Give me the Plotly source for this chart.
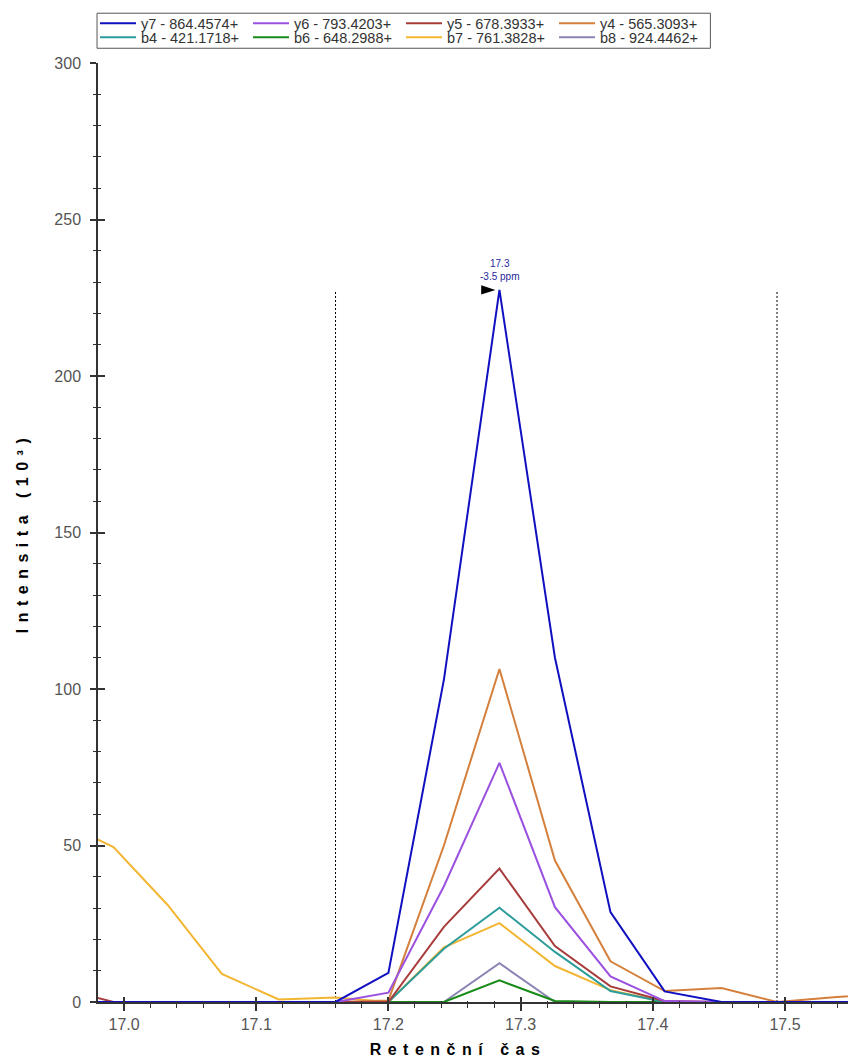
import plotly.graph_objects as go

# ---------------- data ----------------
rt = [16.950, 16.992, 17.033, 17.074, 17.117, 17.160, 17.200, 17.242,
      17.284, 17.326, 17.368, 17.409, 17.452, 17.494, 17.537, 17.579]

y7 = [0, 0, 0, 0, 0, 0, 9.3, 103.0, 227.5, 110.0, 28.7, 3.4, 0, 0, 0, 0]
y6 = [0, 0, 0, 0, 0, 0, 3.0, 37.0, 76.4, 30.3, 8.2, 0.3, 0, 0, 0, 0]
y5 = [4.5, 0, 0, 0, 0, 0, 0, 24.0, 42.6, 17.9, 5.0, 0.3, 0, 0, 0, 0]
y4 = [0, 0, 0, 0, 0, 0, 0.5, 50.0, 106.4, 45.2, 13.0, 3.5, 4.5, 0, 1.5, 2.9]
b4 = [0, 0, 0, 0, 0, 0, 0, 17.0, 30.1, 16.0, 3.5, 0, 0, 0, 0, 0]
b6 = [0, 0, 0, 0, 0, 0, 0, 0, 6.9, 0.3, 0, 0, 0, 0, 0, 0]
b7 = [58.0, 49.5, 31.0, 9.0, 0.8, 1.4, 0, 17.5, 25.2, 11.5, 3.8, 0, 0, 0, 0, 0]
b8 = [0, 0, 0, 0, 0, 0, 0, 0, 12.4, 0, 0, 0, 0, 0, 0, 0]

series_names = ["y7 - 864.4574+", "y6 - 793.4203+", "y5 - 678.3933+", "y4 - 565.3093+",
                "b4 - 421.1718+", "b6 - 648.2988+", "b7 - 761.3828+", "b8 - 924.4462+"]
series_values = [y7, y6, y5, y4, b4, b6, b7, b8]
series_colors = ["#1010c0", "#9b50e0", "#a83c3c", "#d4803c",
                 "#2b9c9a", "#188a18", "#f2b632", "#8c84b4"]
series_legend = ["legend", "legend", "legend", "legend",
                 "legend2", "legend2", "legend2", "legend2"]

boundary_rt = [17.160, 17.494]          # integration boundaries
peak_label = "17.3<br>-3.5 ppm"

x_range = [16.9803, 17.5477]
y_range = [0, 300]
x_title = "Retenční čas"
y_title = "Intensita (10³)"

FONT = "Liberation Sans, Arial, sans-serif"
AXC = "#333333"

fig = go.Figure()

# integration boundary lines (drawn first, under the chromatograms)
peak_height = max(y7)
for t in boundary_rt:
    fig.add_trace(go.Scatter(x=[t, t], y=[0, peak_height], mode="lines",
                             line=dict(color="black", width=1, dash="2px,2px"),
                             showlegend=False, hoverinfo="skip"))

# chromatogram traces: drawn in reverse so y7 ends on top; legends reversed back
for name, vals, col, lg in reversed(list(zip(series_names, series_values,
                                              series_colors, series_legend))):
    fig.add_trace(go.Scatter(x=rt, y=vals, mode="lines", name=name, legend=lg,
                             line=dict(color=col, width=2)))

# apex marker + label
ip = y7.index(peak_height)
fig.add_trace(go.Scatter(x=[rt[ip]], y=[y7[ip]], mode="markers",
                         marker=dict(symbol="arrow", angle=90, size=15, color="black",
                                     standoff=4, line=dict(width=0)),
                         cliponaxis=False, showlegend=False, hoverinfo="skip"))
fig.add_annotation(x=rt[ip], y=y7[ip], text=peak_label, showarrow=False,
                   yanchor="bottom", yshift=6,
                   font=dict(family=FONT, size=10, color="#1f1f99"))

# dummy trace to activate overlay axes (inside halves of the crossing ticks)
fig.add_trace(go.Scatter(x=[None], y=[None], xaxis="x2", yaxis="y2",
                         showlegend=False, hoverinfo="skip"))

tickfont = dict(family=FONT, size=16, color="#555555")
titlefont = dict(family=FONT, size=16, color="black", weight="bold")
legfont = dict(family=FONT, size=14.5, color="#333333")

common_leg = dict(orientation="h", xanchor="left", yanchor="top", x=-0.004,
                  traceorder="reversed", itemwidth=36,
                  entrywidth=102, entrywidthmode="pixels",
                  borderwidth=0, bgcolor="rgba(0,0,0,0)", font=legfont)

fig.update_layout(
    width=848, height=1059,
    margin=dict(l=98, r=0, t=63, b=57),
    paper_bgcolor="white", plot_bgcolor="white",
    showlegend=True,
    legend=dict(common_leg, y=1.0593),
    legend2=dict(common_leg, y=1.0444),
    xaxis=dict(range=x_range, tick0=17.0, dtick=0.1, tickformat=".1f",
               ticks="outside", ticklen=7, tickwidth=1.5, tickcolor=AXC,
               showline=True, linecolor=AXC, linewidth=1.5,
               showgrid=False, zeroline=False, layer="below traces",
               minor=dict(dtick=0.02, ticks="outside", ticklen=4, tickwidth=1,
                          tickcolor=AXC, showgrid=False),
               tickfont=tickfont,
               title=dict(text=x_title, font=titlefont, standoff=12)),
    yaxis=dict(range=y_range, tick0=0, dtick=50,
               ticks="outside", ticklen=6, tickwidth=1.5, tickcolor=AXC,
               showline=True, linecolor=AXC, linewidth=1.5,
               showgrid=False, zeroline=False,
               minor=dict(dtick=10, ticks="outside", ticklen=3, tickwidth=1,
                          tickcolor=AXC, showgrid=False),
               tickfont=tickfont, ticklabelstandoff=6,
               title=dict(text=y_title, font=titlefont, standoff=22)),
    xaxis2=dict(range=x_range, overlaying="x", anchor="y2", side="bottom",
                tick0=17.0, dtick=0.1, ticks="inside", ticklen=5, tickwidth=1.5,
                tickcolor=AXC, showticklabels=False, showline=False,
                showgrid=False, zeroline=False,
                minor=dict(dtick=0.02, ticks="inside", ticklen=1, tickwidth=1,
                           tickcolor=AXC, showgrid=False)),
    yaxis2=dict(range=y_range, overlaying="y", anchor="x2", side="left",
                tick0=0, dtick=50, ticks="inside", ticklen=7, tickwidth=1.5,
                tickcolor=AXC, showticklabels=False, showline=False,
                showgrid=False, zeroline=False,
                minor=dict(dtick=10, ticks="inside", ticklen=3, tickwidth=1,
                           tickcolor=AXC, showgrid=False)),
)

# frame around the two legend rows
fig.add_shape(type="rect", xref="paper", yref="paper",
              x0=-0.0013, x1=0.8165, y0=1.0157, y1=1.0530,
              line=dict(color="#555555", width=1), fillcolor="rgba(0,0,0,0)")

post = """
document.body.style.margin = '0';
var gd = document.getElementById('{plot_id}');
function styleTitles(){
  gd.querySelectorAll('.g-xtitle text, .g-ytitle text').forEach(function(t){
    t.style.letterSpacing = '6.5px';
  });
  var xt = gd.querySelector('.g-xtitle');
  if (xt) { xt.setAttribute('transform', 'translate(-15,0)'); }
}
styleTitles();
gd.on('plotly_afterplot', styleTitles);
"""

fig.write_html("out.html", post_script=post, config={"displayModeBar": False})
